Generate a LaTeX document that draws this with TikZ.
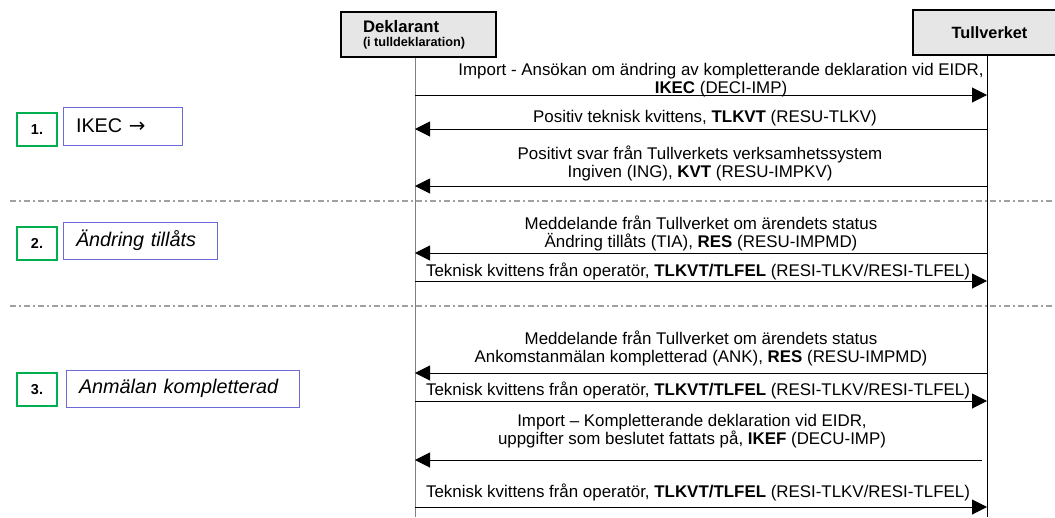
\documentclass[tikz,border=0pt]{standalone}
\usepackage{fontspec}
\setmainfont{Liberation Sans}
\newfontfamily\arrowfont{DejaVu Sans}
\usetikzlibrary{arrows.meta}
\definecolor{headfill}{HTML}{E6E6E6}
\definecolor{numgreen}{HTML}{00B050}
\definecolor{boxblue}{HTML}{6B6BD6}
\definecolor{sepgray}{HTML}{A0A0A0}
\definecolor{lifegray}{HTML}{808080}
\tikzset{
  head/.style={draw=black, line width=2pt, fill=headfill, rectangle},
  msg/.style={line width=1pt, -{Triangle[length=15pt,width=15pt]}},
  lbl/.style={inner sep=0pt, align=center, font=\fontsize{16.9}{18}\selectfont},
  numbox/.style={draw=numgreen, line width=2pt, minimum width=40pt, minimum height=33pt, inner sep=0pt, font=\fontsize{14.4}{16}\selectfont\bfseries},
  phase/.style={draw=boxblue, line width=1pt, minimum height=37pt, inner xsep=13pt, inner ysep=0pt, align=left, font=\fontsize{19.8}{22}\selectfont},
  sep/.style={draw=sepgray, line width=2pt, dash pattern=on 6pt off 3pt on 2pt off 3pt},
}
\begin{document}
\begin{tikzpicture}[x=1pt,y=-1pt]
\useasboundingbox (0,0) rectangle (1055,517);
\clip (0,0) rectangle (1055,517);
% separators
\coordinate (s1a) at (10,201); \coordinate (s1b) at (1055,201);
\coordinate (s2a) at (10,306); \coordinate (s2b) at (1055,306);
\draw[sep] (s1a) -- (s1b);
\draw[sep] (s2a) -- (s2b);
% headers
\node[head, minimum width=155pt, minimum height=45pt, text width=111pt, inner xsep=22pt, inner ysep=0pt, align=left] (dek) at (418.5,34.5)
  {\fontsize{16.7}{18}\selectfont\bfseries Deklarant\\[2pt]\fontsize{12.7}{14}\selectfont\bfseries (i tulldeklaration)};
\node[head, minimum width=153pt, minimum height=45pt, inner sep=0pt, font=\fontsize{16.3}{18}\selectfont\bfseries] (tull) at (989.5,32.5) {Tullverket};
% lifelines
\coordinate (dend) at (415,517);
\coordinate (tend) at (987,517);
\draw[lifegray, line width=1pt] (dek.south -| dend) -- (dend);
\draw[black, line width=1pt] (tull.south -| tend) -- (tend);
% message end points
\coordinate (d1) at (415,95);  \coordinate (t1) at (987,95);
\coordinate (d2) at (415,129); \coordinate (t2) at (987,129);
\coordinate (d3) at (415,186); \coordinate (t3) at (987,186);
\coordinate (d4) at (415,253); \coordinate (t4) at (987,253);
\coordinate (d5) at (415,281); \coordinate (t5) at (987,281);
\coordinate (d6) at (415,373); \coordinate (t6) at (987,373);
\coordinate (d7) at (415,401); \coordinate (t7) at (987,401);
\coordinate (d8) at (415,460); \coordinate (t8) at (982,460);
\coordinate (d9) at (415,507); \coordinate (t9) at (987,507);
\draw[msg] (d1) -- (t1);
\draw[msg] (t2) -- (d2);
\draw[msg] (t3) -- (d3);
\draw[msg] (t4) -- (d4);
\draw[msg] (d5) -- (t5);
\draw[msg] (t6) -- (d6);
\draw[msg] (d7) -- (t7);
\draw[msg] (t8) -- (d8);
\draw[msg] (d9) -- (t9);
% message labels
\node[lbl] (m1) at (721,80) {Import - Ansökan om ändring av kompletterande deklaration vid EIDR,\\\textbf{IKEC} (DECI-IMP)};
\node[lbl] (m2) at (705,118) {Positiv teknisk kvittens, \textbf{TLKVT} (RESU-TLKV)};
\node[lbl] (m3) at (700,163) {Positivt svar från Tullverkets verksamhetssystem\\Ingiven (ING), \textbf{KVT} (RESU-IMPKV)};
\node[lbl] (m4) at (701,233) {Meddelande från Tullverket om ärendets status\\Ändring tillåts (TIA), \textbf{RES} (RESU-IMPMD)};
\node[lbl] (m5) at (698,271) {Teknisk kvittens från operatör, \textbf{TLKVT/TLFEL} (RESI-TLKV/RESI-TLFEL)};
\node[lbl] (m6) at (701,348) {Meddelande från Tullverket om ärendets status\\Ankomstanmälan kompletterad (ANK), \textbf{RES} (RESU-IMPMD)};
\node[lbl] (m7) at (698,390) {Teknisk kvittens från operatör, \textbf{TLKVT/TLFEL} (RESI-TLKV/RESI-TLFEL)};
\node[lbl] (m8) at (692,431) {Import – Kompletterande deklaration vid EIDR,\\uppgifter som beslutet fattats på, \textbf{IKEF} (DECU-IMP)};
\node[lbl] (m9) at (698,492) {Teknisk kvittens från operatör, \textbf{TLKVT/TLFEL} (RESI-TLKV/RESI-TLFEL)};
% phase labels
\node[numbox] (n1) at (37,129.5) {1.};
\node[numbox] (n2) at (37,243.5) {2.};
\node[numbox] (n3) at (37,389.5) {3.};
\node[phase, text width=93pt, minimum height=38pt] (p1) at (122.5,126) {IKEC {\arrowfont →}};
\node[phase, text width=128pt] (p2) at (140,240.5) {\itshape Ändring tillåts};
\node[phase, text width=207pt] (p3) at (182.5,388.5) {\itshape Anmälan kompletterad};
\end{tikzpicture}
\end{document}
